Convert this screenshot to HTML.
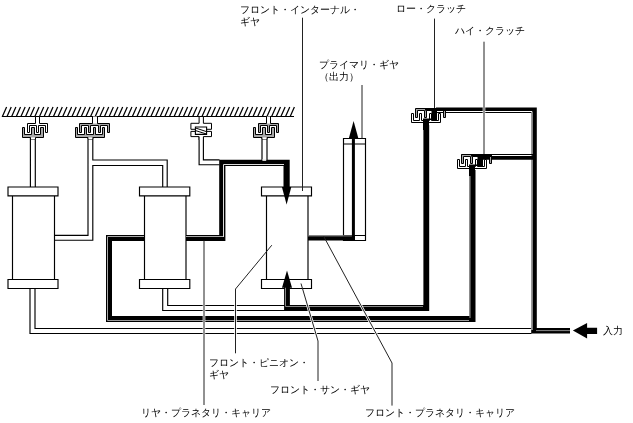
<!DOCTYPE html>
<html><head><meta charset="utf-8"><style>
html,body{margin:0;padding:0;background:#fff;}
body{width:633px;height:423px;position:relative;overflow:hidden;font-family:"Liberation Sans",sans-serif;}
svg{position:absolute;left:0;top:0;}
.t{position:absolute;will-change:transform;font-size:10px;line-height:12px;color:#000;white-space:nowrap;}
</style></head><body>
<svg width="633" height="423" viewBox="0 0 633 423">
<path d="M2.50,116.3L6.60,107.0M7.14,116.3L11.24,107.0M11.78,116.3L15.88,107.0M16.43,116.3L20.53,107.0M21.07,116.3L25.17,107.0M25.71,116.3L29.81,107.0M30.35,116.3L34.45,107.0M34.99,116.3L39.09,107.0M39.64,116.3L43.74,107.0M44.28,116.3L48.38,107.0M48.92,116.3L53.02,107.0M53.56,116.3L57.66,107.0M58.20,116.3L62.30,107.0M62.85,116.3L66.95,107.0M67.49,116.3L71.59,107.0M72.13,116.3L76.23,107.0M76.77,116.3L80.87,107.0M81.41,116.3L85.51,107.0M86.06,116.3L90.16,107.0M90.70,116.3L94.80,107.0M95.34,116.3L99.44,107.0M99.98,116.3L104.08,107.0M104.62,116.3L108.72,107.0M109.27,116.3L113.37,107.0M113.91,116.3L118.01,107.0M118.55,116.3L122.65,107.0M123.19,116.3L127.29,107.0M127.83,116.3L131.93,107.0M132.48,116.3L136.58,107.0M137.12,116.3L141.22,107.0M141.76,116.3L145.86,107.0M146.40,116.3L150.50,107.0M151.04,116.3L155.14,107.0M155.69,116.3L159.79,107.0M160.33,116.3L164.43,107.0M164.97,116.3L169.07,107.0M169.61,116.3L173.71,107.0M174.25,116.3L178.35,107.0M178.90,116.3L183.00,107.0M183.54,116.3L187.64,107.0M188.18,116.3L192.28,107.0M192.82,116.3L196.92,107.0M197.46,116.3L201.56,107.0M202.11,116.3L206.21,107.0M206.75,116.3L210.85,107.0M211.39,116.3L215.49,107.0M216.03,116.3L220.13,107.0M220.67,116.3L224.77,107.0M225.32,116.3L229.42,107.0M229.96,116.3L234.06,107.0M234.60,116.3L238.70,107.0M239.24,116.3L243.34,107.0M243.88,116.3L247.98,107.0M248.53,116.3L252.63,107.0M253.17,116.3L257.27,107.0M257.81,116.3L261.91,107.0M262.45,116.3L266.55,107.0M267.09,116.3L271.19,107.0M271.74,116.3L275.84,107.0M276.38,116.3L280.48,107.0M281.02,116.3L285.12,107.0M285.66,116.3L289.76,107.0M290.30,116.3L294.40,107.0" stroke="#000" stroke-width="1.25" fill="none"/>
<path d="M1.8,116.5H294" stroke="#000" stroke-width="1.2"/>
<path d="M8.0,187.0H58.0V195.8H8.0ZM8.0,279.5H58.0V288.5H8.0ZM12.5,195.8V279.5M54.5,195.8V279.5M139.5,187.0H189.8V195.8H139.5ZM139.5,279.5H189.8V288.5H139.5ZM144.5,195.8V279.5M186.0,195.8V279.5M261.5,187.0H311.5V195.8H261.5ZM261.5,279.5H311.5V288.5H261.5ZM266.5,195.8V279.5M308.0,195.8V279.5M343.5,138.5H365.5V240.5H343.5ZM343.5,144H365.5M343.5,235.5H365.5M30.4,137.5V187M35.3,137.5V187M30.0,288.5V333.5H531.5M35.0,288.5V328.5H531.5M88,137.5V235.3H54.5M92.8,137.5V160H167.2V187M54.5,240.2H92.8V165.5H162.7V187M199.1,137V164.7H219.5M203.4,137V159.9H219.5M262,137V160M267,137V160M162.7,288.5V310.5H285M167.7,288.5V305.5H285" stroke="#000" stroke-width="1.15" fill="none"/>
<path d="M144.5,238L109,238L109,319L472.5,319L472.5,170" stroke="#000" stroke-width="6" fill="none" stroke-linejoin="miter" stroke-linecap="butt"/>
<path d="M107.5,236.5L107.5,320.5" stroke="#aaa" stroke-width="1" fill="none"/>
<path d="M107.5,236.5L144,236.5" stroke="#aaa" stroke-width="1" fill="none"/>
<path d="M107.5,320.5L469,320.5" stroke="#999" stroke-width="1" fill="none"/>
<path d="M470,318L470,170" stroke="#999" stroke-width="1" fill="none"/>
<path d="M186,238L222.3,238L222.3,162.8L286.6,162.8L286.6,190" stroke="#000" stroke-width="6.2" fill="none" stroke-linejoin="miter" stroke-linecap="butt"/>
<path d="M223.5,237L223.5,164.5L284,164.5" stroke="#ddd" stroke-width="1" fill="none"/>
<path d="M186,236.5L223,236.5" stroke="#aaa" stroke-width="1" fill="none"/>
<path d="M287,285L287,308L426.3,308L426.3,125" stroke="#000" stroke-width="5.8" fill="none" stroke-linejoin="miter" stroke-linecap="butt"/>
<path d="M285.5,287L285.5,306.5L423,306.5" stroke="#888" stroke-width="1" fill="none"/>
<path d="M308,237.9L355,237.9" stroke="#000" stroke-width="5" fill="none" stroke-linejoin="miter" stroke-linecap="butt"/>
<path d="M308,235.9L352,235.9" stroke="#888" stroke-width="1" fill="none"/>
<path d="M353.4,240.4L353.4,136" stroke="#000" stroke-width="3" fill="none" stroke-linejoin="miter" stroke-linecap="butt"/>
<path d="M436,110.3L534,110.3L534,330.8L570,330.8" stroke="#000" stroke-width="5.6" fill="none" stroke-linejoin="miter" stroke-linecap="butt"/>
<path d="M436,111.5L532,111.5L532,330" stroke="#fff" stroke-width="1" fill="none"/>
<path d="M536,330.6L570,330.6" stroke="#888" stroke-width="1" fill="none"/>
<path d="M478,157.5L534,157.5" stroke="#000" stroke-width="4.6" fill="none" stroke-linejoin="miter" stroke-linecap="butt"/>
<path d="M461.5,154.5L534,154.5" stroke="#000" stroke-width="1" fill="none"/>
<path d="M461.5,155.5L531.5,155.5" stroke="#fff" stroke-width="1" fill="none"/>
<rect x="262.4" y="159.2" width="3.8" height="1.6" fill="#fff"/>
<path d="M281.9,187H291.3L286.6,204.6Z" fill="#000"/>
<path d="M282,287.8H292L287,270.4Z" fill="#000"/>
<path d="M348.8,138.5H358.4L353.6,121Z" fill="#000"/>
<path d="M572.9,330.6L587.1,323V327.7H597.1V334H587.1V338.6Z" fill="#000"/>
<path d="M35.5,116.5L35.5,123.5L27.5,123.5L27.5,132.5L29.5,132.5L29.5,125.5L36.5,125.5L36.5,132.5L38.5,132.5L38.5,125.5L45.5,125.5L45.5,132.5L47.5,132.5L47.5,123.5L39.5,123.5L39.5,116.5Z" stroke="#000" stroke-width="1" fill="#fff" stroke-linejoin="miter"/>
<path d="M30.5,139L30.5,137.5L22.5,137.5L22.5,127.5L24.5,127.5L24.5,134.5L31.5,134.5L31.5,127.5L34.5,127.5L34.5,134.5L40.5,134.5L40.5,127.5L43.5,127.5L43.5,137.5L35.5,137.5L35.5,139Z" stroke="#000" stroke-width="1" fill="#a8a8a8" stroke-linejoin="miter"/>
<rect x="31.0" y="137.5" width="4.0" height="1.5" fill="#fff"/>
<path d="M266.5,116.5L266.5,123.5L258.5,123.5L258.5,132.5L260.5,132.5L260.5,125.5L267.5,125.5L267.5,132.5L269.5,132.5L269.5,125.5L276.5,125.5L276.5,132.5L278.5,132.5L278.5,123.5L270.5,123.5L270.5,116.5Z" stroke="#000" stroke-width="1" fill="#a8a8a8" stroke-linejoin="miter"/>
<rect x="267.0" y="116.5" width="3.0" height="7.0" fill="#fff"/>
<path d="M262,139L262,137.5L253.5,137.5L253.5,127.5L255.5,127.5L255.5,134.5L262.5,134.5L262.5,127.5L265.5,127.5L265.5,134.5L271.5,134.5L271.5,127.5L274.5,127.5L274.5,137.5L267,137.5L267,139Z" stroke="#000" stroke-width="1" fill="#a8a8a8" stroke-linejoin="miter"/>
<rect x="262.5" y="137.5" width="4" height="1.5" fill="#fff"/>
<path d="M92.5,116.5L92.5,123.5L79.5,123.5L79.5,132.5L81.5,132.5L81.5,125.5L88.5,125.5L88.5,132.5L90.5,132.5L90.5,125.5L98.5,125.5L98.5,132.5L100.5,132.5L100.5,125.5L107.5,125.5L107.5,132.5L109.5,132.5L109.5,123.5L97.5,123.5L97.5,116.5Z" stroke="#000" stroke-width="1" fill="#a8a8a8" stroke-linejoin="miter"/>
<rect x="93.0" y="116.5" width="4.0" height="7.0" fill="#fff"/>
<path d="M88,139L88,137.5L75.5,137.5L75.5,127.5L77.5,127.5L77.5,134.5L84.5,134.5L84.5,127.5L86.5,127.5L86.5,134.5L93.5,134.5L93.5,127.5L95.5,127.5L95.5,134.5L102.5,134.5L102.5,127.5L104.5,127.5L104.5,137.5L92.8,137.5L92.8,139Z" stroke="#000" stroke-width="1" fill="#a8a8a8" stroke-linejoin="miter"/>
<rect x="88.5" y="137.5" width="3.799999999999997" height="1.5" fill="#fff"/>
<path d="M199.1,116.5V123.3H190.9V129.3H211.5V123.3H203.4V116.5Z" stroke="#000" stroke-width="1" fill="#fff"/>
<path d="M199.1,140V136.6H190.9V131.4H211.5V136.6H203.4V140" stroke="#000" stroke-width="1" fill="#fff"/>
<path d="M195.4,127H206.6V134.4H195.4Z" stroke="#000" stroke-width="1.1" fill="#fff"/>
<path d="M195.6,128L206.4,131.6M195.6,130.6L206.4,134" stroke="#000" stroke-width="1" fill="none"/>
<path d="M411.5,122.5L411.5,113.5L413.5,113.5L413.5,120.5L419.5,120.5L419.5,113.5L421.5,113.5L421.5,120.5L429.5,120.5L429.5,113.5L431.5,113.5L431.5,120.5L438.5,120.5L438.5,113.5L440.5,113.5L440.5,122.5Z" stroke="#000" stroke-width="1" fill="#fff" stroke-linejoin="miter"/>
<path d="M415.5,108.5L415.5,117.5L417.5,117.5L417.5,110.5L424.5,110.5L424.5,117.5L426.5,117.5L426.5,110.5L433.5,110.5L433.5,117.5L435.5,117.5L435.5,110.5L443.5,110.5L443.5,117.5L445.5,117.5L445.5,108.5Z" stroke="#000" stroke-width="1" fill="#a8a8a8" stroke-linejoin="miter"/>
<path d="M423,130V118.5H431.5V108H446V111H437V120H429V130Z" fill="#000"/>
<rect x="425" y="108" width="11" height="2.6" fill="#000"/>
<path d="M457.5,168.5L457.5,159.5L459.5,159.5L459.5,166.5L465.5,166.5L465.5,159.5L467.5,159.5L467.5,166.5L475.5,166.5L475.5,159.5L477.5,159.5L477.5,166.5L484.5,166.5L484.5,159.5L486.5,159.5L486.5,168.5Z" stroke="#000" stroke-width="1" fill="#fff" stroke-linejoin="miter"/>
<path d="M461.5,154.5L461.5,163.5L463.5,163.5L463.5,156.5L470.5,156.5L470.5,163.5L472.5,163.5L472.5,156.5L479.5,156.5L479.5,163.5L481.5,163.5L481.5,156.5L489.5,156.5L489.5,163.5L491.5,163.5L491.5,154.5Z" stroke="#000" stroke-width="1" fill="#a8a8a8" stroke-linejoin="miter"/>
<path d="M469,176V164.5H477.5V154H492V157H483V166H475V176Z" fill="#000"/>
<rect x="471" y="154" width="11" height="2.6" fill="#000"/>
<path d="M484,100V120M235.5,295V345M204,243V350M305.88,300L316.82,337M358.02,300L377.97,337" stroke="#fff" stroke-width="2.6" fill="none"/>
<path d="M302.5,17.7V191M362,85V138.5M434.5,18.6V108M484,41.7V154M271.8,245.2L235.5,289V353.3M204,240.5V405M301,283.5L318,341V381M323.6,236.2L392,363V405.6" stroke="#222" stroke-width="1" fill="none"/>
</svg>
<div class="t" style="left:240px;top:3.5px">フロント・インターナル・<br>ギヤ</div>
<div class="t" style="left:319px;top:59.2px">プライマリ・ギヤ<br>（出力）</div>
<div class="t" style="left:396px;top:3px">ロー・クラッチ</div>
<div class="t" style="left:454.6px;top:24.8px">ハイ・クラッチ</div>
<div class="t" style="left:209px;top:356.5px">フロント・ピニオン・<br>ギヤ</div>
<div class="t" style="left:270px;top:383.6px">フロント・サン・ギヤ</div>
<div class="t" style="left:141.3px;top:406.7px">リヤ・プラネタリ・キャリア</div>
<div class="t" style="left:364.7px;top:407.4px">フロント・プラネタリ・キャリア</div>
<div class="t" style="left:603.3px;top:324.5px">入力</div>
</body></html>
